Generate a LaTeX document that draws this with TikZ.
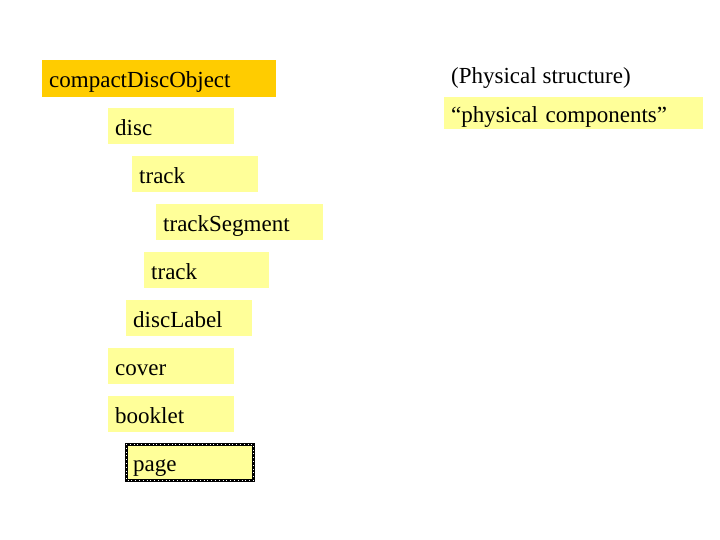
\documentclass[tikz,border=0pt]{standalone}
\usepackage{fontspec}
\setmainfont{Liberation Serif}
\definecolor{boxorange}{HTML}{FFCC00}
\definecolor{boxyellow}{HTML}{FFFF99}
\tikzset{
  item/.style={rectangle, fill=boxyellow, anchor=north west, inner xsep=7pt, inner ysep=0pt,
    text height=20pt, text depth=2pt, align=left, font=\fontsize{23}{26}\selectfont},
  plain/.style={anchor=base west, inner sep=0pt, font=\fontsize{23}{26}\selectfont},
}
\newcommand{\itembox}[7][]{% options, name, left, top, right, bottom, text
  \pgfmathsetmacro{\bw}{#5-#3}\pgfmathsetmacro{\bh}{#6-#4}
  \node[item, #1, minimum width=\bw pt, minimum height=\bh pt, text width=\bw pt-14pt] (#2) at (#3,#4) {#7};}
\begin{document}
\begin{tikzpicture}[x=1pt,y=-1pt]
\useasboundingbox (0,0) rectangle (720,540);
\itembox[fill=boxorange]{cdo}{42}{60}{276}{97}{compactDiscObject}
\itembox{disc}{108}{108}{234}{144}{disc}
\itembox{track}{132}{156}{258}{192}{track}
\itembox{seg}{156}{204}{323}{240}{trackSegment}
\itembox{tracktwo}{144}{252}{269}{288}{track}
\itembox{label}{126}{300}{252}{336}{discLabel}
\itembox{cover}{108}{348}{234}{384}{cover}
\itembox{booklet}{108}{396}{234}{432}{booklet}
\itembox{page}{126}{444}{253}{480}{page}
\draw[line width=3pt] (page.north west) rectangle (page.south east);
\draw[white, line width=1pt, dash pattern=on 0.8pt off 3pt] (page.north west) rectangle (page.south east);
\node[plain] (phys) at (451,84) {(Physical structure)};
\itembox{comp}{444}{97}{703}{129}{“physical components”}
\end{tikzpicture}
\end{document}
